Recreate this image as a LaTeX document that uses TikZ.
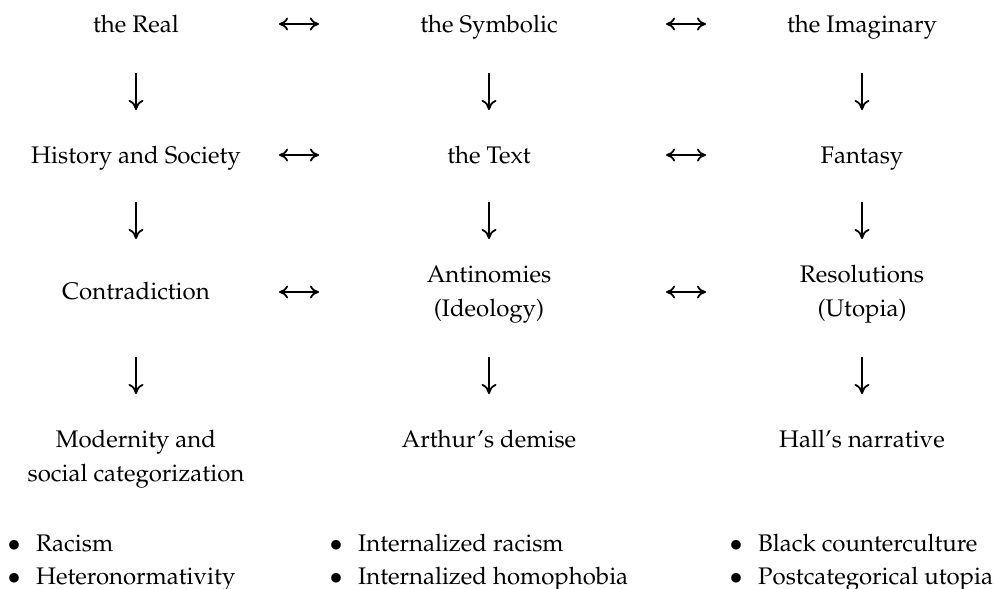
\documentclass[tikz,border=0pt]{standalone}
\IfFileExists{mathpazo.sty}{\usepackage[T1]{fontenc}\usepackage{mathpazo}}{\usepackage{fontspec}\setmainfont{Liberation Serif}}
\usetikzlibrary{arrows.meta}
\newcommand\bitem{\makebox[44pt]{$\bullet$}}
\newcommand\twolines[2]{\vtop{\halign{\hfil##\hfil\cr#1\cr#2\cr}}}
\newcommand\twoitems[2]{\vtop{\halign{##\hfil\cr\bitem #1\cr\bitem #2\cr}}}
\tikzset{
  lbl/.style={inner sep=0pt, anchor=base, font=\fontsize{24}{34.5}\selectfont},
  lst/.style={inner sep=0pt, anchor=base west, font=\fontsize{24}{33}\selectfont},
  vtip/.tip={Computer Modern Rightarrow[length=10pt,width=15pt]},
  htip/.tip={Computer Modern Rightarrow[length=9pt,width=13pt]},
  varr/.style={line width=1.8pt, -vtip},
  harr/.style={line width=1.8pt, htip-htip},
}
\begin{document}
\begin{tikzpicture}[x=1pt,y=-1pt]
\useasboundingbox (0,0) rectangle (994,589);
% row 1
\node[lbl] (real) at (136,32) {the Real};
\node[lbl] (symb) at (489,32) {the Symbolic};
\node[lbl] (imag) at (862,32) {the Imaginary};
% row 2
\node[lbl] (hist) at (136,163) {History and Society};
\node[lbl] (text) at (489,163) {the Text};
\node[lbl] (fant) at (862,163) {Fantasy};
% row 3
\node[lbl] (contr) at (136,299) {Contradiction};
\node[lbl] (anti) at (489,282) {\twolines{Antinomies}{(Ideology)}};
\node[lbl] (reso) at (862,282) {\twolines{Resolutions}{(Utopia)}};
% row 4
\node[lbl] (mode) at (136,447) {\twolines{Modernity and}{social categorization}};
\node[lbl] (arth) at (489,447) {Arthur's demise};
\node[lbl] (hall) at (862,447) {Hall's narrative};
% lists
\node[lst] (l1) at (-8,551) {\twoitems{Racism}{Heteronormativity}};
\node[lst] (l2) at (314,551) {\twoitems{Internalized racism}{Internalized homophobia}};
\node[lst] (l3) at (714,551) {\twoitems{Black counterculture}{Postcategorical utopia}};
% horizontal connector ends
\coordinate (h1a) at (279,24);  \coordinate (h1b) at (319,24);
\coordinate (h2a) at (666,24);  \coordinate (h2b) at (706,24);
\coordinate (h3a) at (279,155); \coordinate (h3b) at (319,155);
\coordinate (h4a) at (666,155); \coordinate (h4b) at (706,155);
\coordinate (h5a) at (279,292); \coordinate (h5b) at (319,292);
\coordinate (h6a) at (666,292); \coordinate (h6b) at (706,292);
\foreach \i in {1,...,6} \draw[harr] (h\i a) -- (h\i b);
% vertical connector ends
\foreach \c/\x in {a/136,b/489,c/862}{
  \coordinate (v1\c s) at (\x,73);  \coordinate (v1\c e) at (\x,110);
  \coordinate (v2\c s) at (\x,202); \coordinate (v2\c e) at (\x,239);
  \coordinate (v3\c s) at (\x,357); \coordinate (v3\c e) at (\x,394);
}
\foreach \r in {1,2,3}
  \foreach \c in {a,b,c}
    \draw[varr] (v\r\c s) -- (v\r\c e);
\end{tikzpicture}
\end{document}
